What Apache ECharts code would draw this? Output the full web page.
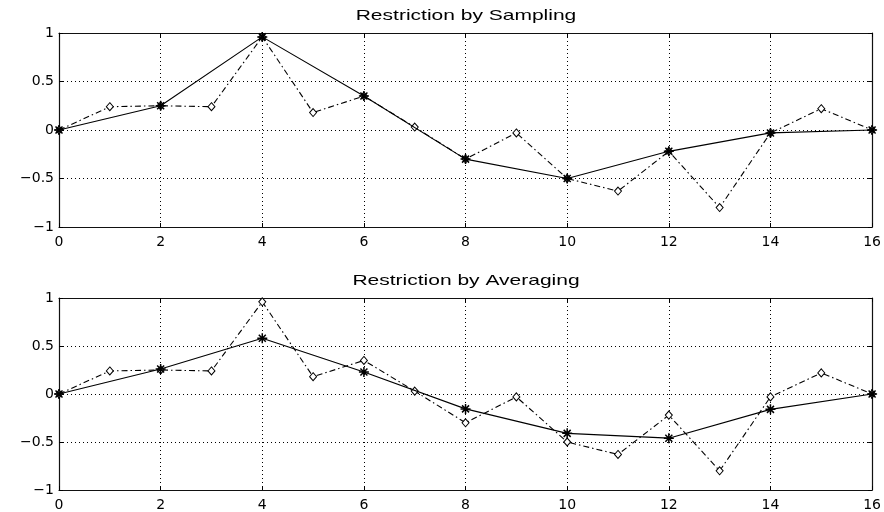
<!DOCTYPE html>
<html>
<head>
<meta charset="utf-8">
<style>
  html, body { margin: 0; padding: 0; background: #fff; }
  #chart { width: 884px; height: 512px; }
</style>
<script src="https://cdn.jsdelivr.net/npm/echarts@6/dist/echarts.min.js"></script>
</head>
<body>
<div id="chart"></div>
<script>
// Fine-grid signal (points 0..16)
const fineX = [0, 1, 2, 3, 4, 5, 6, 7, 8, 9, 10, 11, 12, 13, 14, 15, 16];
const fineY = [0, 0.24, 0.25, 0.24, 0.96, 0.18, 0.35, 0.03, -0.30, -0.03, -0.50, -0.63, -0.22, -0.80, -0.03, 0.22, 0];

// Coarse-grid points (even indices)
const coarseX = [0, 2, 4, 6, 8, 10, 12, 14, 16];
const sampledY = [0, 0.25, 0.96, 0.35, -0.30, -0.50, -0.22, -0.03, 0];
const averagedY = [0, 0.26, 0.58, 0.23, -0.155, -0.41, -0.46, -0.16, 0];

const panelTitles = ['Restriction by Sampling', 'Restriction by Averaging'];
const xTicks = { min: 0, max: 16, interval: 2 };
const yTicks = { min: -1, max: 1, interval: 0.5 };

const pairs = (xs, ys) => xs.map((x, i) => [x, ys[i]]);
const fmtY = v => (v < 0 ? '\u2212' + Math.abs(v) : String(v));

const INK = '#000';
const FONT = 'DejaVu Sans';
const asterisk = 'path://M0,-5L0,5M-5,0L5,0M-3.5,-3.5L3.5,3.5M-3.5,3.5L3.5,-3.5';

const grids = [
  { left: 59, right: 10, top: 33, height: 194 },
  { left: 59, right: 10, top: 298, height: 194 }
];

const xAxes = [], yAxes = [], series = [];
grids.forEach((g, i) => {
  const frame = { show: true, onZero: false, lineStyle: { color: '#111', width: 1.2 } };
  const ticks = { show: true, inside: true, length: 4, lineStyle: { color: INK } };
  const grid = { show: true, lineStyle: { color: '#000', width: 1, type: [1, 3] } };
  xAxes.push({
    type: 'value', gridIndex: i, min: xTicks.min, max: xTicks.max, interval: xTicks.interval,
    axisLine: frame, axisTick: ticks,
    axisLabel: { color: INK, fontFamily: FONT, fontSize: 14, margin: 8 },
    splitLine: grid
  }, {
    type: 'value', gridIndex: i, position: 'top', min: xTicks.min, max: xTicks.max, interval: xTicks.interval,
    axisLine: frame, axisTick: ticks, axisLabel: { show: false }, splitLine: { show: false }
  });
  yAxes.push({
    type: 'value', gridIndex: i, min: yTicks.min, max: yTicks.max, interval: yTicks.interval,
    axisLine: frame, axisTick: ticks,
    axisLabel: { color: INK, fontFamily: FONT, fontSize: 14, margin: 5, formatter: fmtY },
    splitLine: grid
  }, {
    type: 'value', gridIndex: i, position: 'right', min: yTicks.min, max: yTicks.max, interval: yTicks.interval,
    axisLine: frame, axisTick: ticks, axisLabel: { show: false }, splitLine: { show: false }
  });

  const xIdx = i * 2, yIdx = i * 2;
  series.push({
    type: 'line', xAxisIndex: xIdx, yAxisIndex: yIdx,
    data: pairs(fineX, fineY),
    symbol: 'diamond', symbolSize: [7, 8],
    itemStyle: { color: '#fff', borderColor: INK, borderWidth: 1 },
    lineStyle: { color: INK, width: 1.1, type: [6, 3, 1.5, 3] },
    animation: false, z: 2
  });
  series.push({
    type: 'line', xAxisIndex: xIdx, yAxisIndex: yIdx,
    data: pairs(coarseX, i === 0 ? sampledY : averagedY),
    symbol: asterisk, symbolSize: 10,
    itemStyle: { color: 'none', borderColor: INK, borderWidth: 1.5 },
    lineStyle: { color: INK, width: 1.1, type: 'solid' },
    animation: false, z: 3
  });
});

const chart = echarts.init(document.getElementById('chart'), null, { renderer: 'canvas' });
chart.setOption({
  backgroundColor: '#fff',
  animation: false,
  grid: grids,
  xAxis: xAxes,
  yAxis: yAxes,
  series: series,
  graphic: panelTitles.map((t, i) => ({
    type: 'text',
    x: 466, y: i === 0 ? 16 : 281,
    scaleX: 1.4, scaleY: 1,
    style: {
      text: t, fill: INK, font: '15px "Liberation Sans"',
      textAlign: 'center', textVerticalAlign: 'middle'
    }
  }))
});
</script>
</body>
</html>
